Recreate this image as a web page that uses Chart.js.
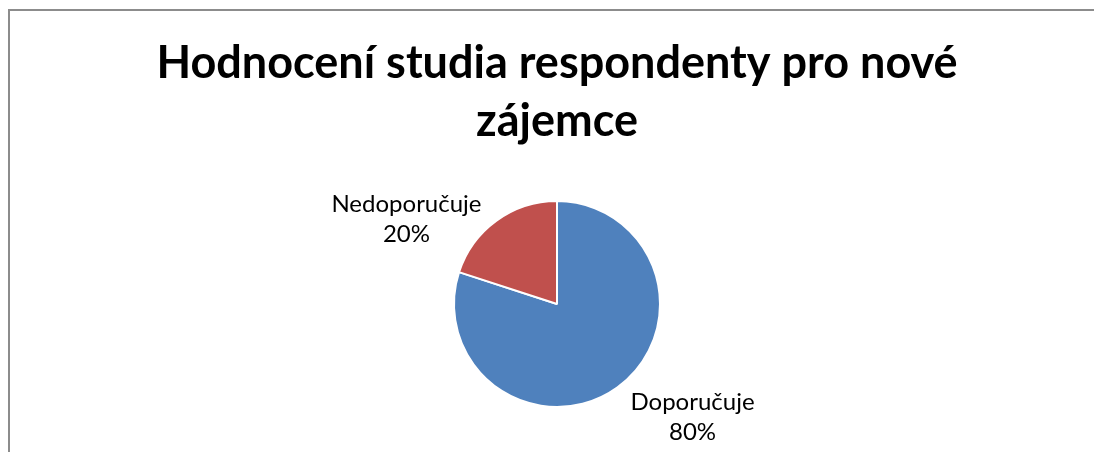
<!DOCTYPE html>
<html lang="cs">
<head>
<meta charset="utf-8">
<title>Hodnocení studia respondenty pro nové zájemce</title>
<script src="https://cdnjs.cloudflare.com/ajax/libs/Chart.js/4.4.1/chart.umd.min.js"></script>
<style>
  html, body { margin: 0; padding: 0; background: #fff; overflow: hidden; }
  canvas { display: block; }
</style>
</head>
<body>
<canvas id="chart" width="1094" height="452"></canvas>
<script>
const titleLines = ['Hodnocení studia respondenty pro nové', 'zájemce'];
const categories = ['Doporučuje', 'Nedoporučuje'];
const shares     = [80, 20];
const colors     = ['#4F81BD', '#C0504D'];

// label offset from the outer middle of each slice (x, y of first baseline)
const labelOffsets = [[75, 23], [-90, -9]];

// chart frame: only top and left edges fall inside the picture
const frameLine = {
  id: 'frameLine',
  beforeDraw(chart) {
    const { ctx, width, height } = chart;
    ctx.save();
    ctx.strokeStyle = '#8c8c8c';
    ctx.lineWidth = 2;
    ctx.beginPath();
    ctx.moveTo(9, height);
    ctx.lineTo(9, 10);
    ctx.lineTo(width, 10);
    ctx.stroke();
    ctx.restore();
  }
};

const outsideLabels = {
  id: 'outsideLabels',
  afterDatasetsDraw(chart) {
    const { ctx } = chart;
    const meta = chart.getDatasetMeta(0);
    const total = shares.reduce((a, b) => a + b, 0);
    ctx.save();
    ctx.font = '24px Lato';
    ctx.fillStyle = '#000';
    ctx.textAlign = 'center';
    ctx.textBaseline = 'alphabetic';
    meta.data.forEach((arc, i) => {
      const { x, y, startAngle, endAngle, outerRadius } = arc.getProps(['x', 'y', 'startAngle', 'endAngle', 'outerRadius'], true);
      const mid = (startAngle + endAngle) / 2;
      const px = x + Math.cos(mid) * outerRadius + labelOffsets[i][0];
      const py = y + Math.sin(mid) * outerRadius + labelOffsets[i][1];
      const pct = Math.round(shares[i] / total * 100) + '%';
      ctx.fillText(categories[i], px, py);
      ctx.fillText(pct, px, py + 30);
    });
    ctx.restore();
  }
};

new Chart(document.getElementById('chart'), {
  type: 'pie',
  data: {
    labels: categories,
    datasets: [{
      data: shares,
      backgroundColor: colors,
      borderColor: '#ffffff',
      borderWidth: 2,
    }],
  },
  options: {
    responsive: false,
    animation: false,
    layout: { padding: { top: 4, left: 20, bottom: 44, right: 0 } },
    plugins: {
      legend: { display: false },
      tooltip: { enabled: false },
      title: {
        display: true,
        text: titleLines,
        color: '#000',
        font: { family: 'Lato', size: 45, weight: 'bold', lineHeight: 58 / 45 },
        padding: { top: 30, bottom: 50 },
      },
    },
  },
  plugins: [frameLine, outsideLabels],
});
</script>
</body>
</html>
